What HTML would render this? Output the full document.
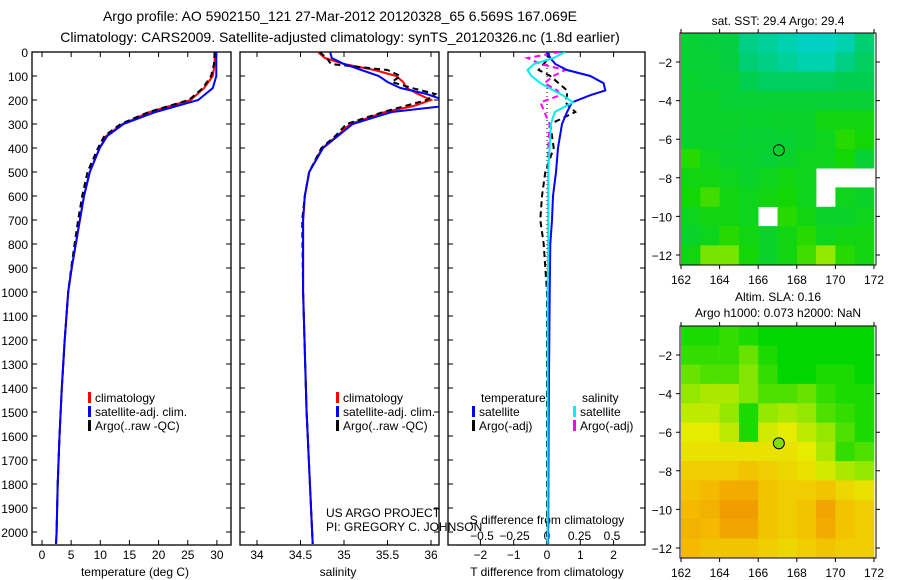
<!DOCTYPE html>
<html><head><meta charset="utf-8">
<style>
body{margin:0;background:#fff;}
svg{display:block;font-family:"Liberation Sans","DejaVu Sans",sans-serif;}
</style></head>
<body>
<svg id="fig" width="900" height="580" viewBox="0 0 900 580">
<text x="340" y="21" font-size="14" text-anchor="middle">Argo profile: AO 5902150_121 27-Mar-2012 20120328_65 6.569S 167.069E</text>
<text x="340" y="42" font-size="14" text-anchor="middle">Climatology: CARS2009. Satellite-adjusted climatology: synTS_20120326.nc (1.8d earlier)</text>
<text x="778" y="25" font-size="12" text-anchor="middle">sat. SST: 29.4 Argo: 29.4</text>
<text x="778" y="301" font-size="12" text-anchor="middle">Altim. SLA: 0.16</text>
<text x="778" y="317" font-size="12" text-anchor="middle">Argo h1000: 0.073 h2000: NaN</text>
<text transform="translate(894,470) rotate(-90)" font-size="12" text-anchor="middle">IMOS 01-Apr-2012 17:02:11</text>
<g id="g"></g>
</svg>
<script>
// ---- profile data ----
const tDepths=[0,50,100,150,200,250,300,350,400,500,600,700,800,900,1000,1200,1400,1600,1800,2000,2050];
const tClim=[29.6,29.6,29.3,27.8,25.5,18.5,13.8,11,9.9,8.2,7.2,6.5,5.8,5.1,4.5,3.9,3.4,3.0,2.7,2.5,2.4];
const tSat=[29.9,29.9,29.9,29.3,26.8,19.5,14,11.2,9.9,8.2,7.2,6.5,5.8,5.1,4.5,3.9,3.4,3.0,2.7,2.5,2.4];
const tArgo=[29.6,29.5,29.0,27.6,25.2,18.3,13.5,10.7,9.6,7.8,6.9,6.2,5.6,5.0,4.5,3.9,3.4,3.0,2.7,2.5,2.4];
const sDepths=[0,25,50,75,100,125,150,175,200,225,250,300,350,400,500,600,700,1000,1500,2050];
const sClim=[34.70,34.78,35.0,35.35,35.6,35.68,35.72,35.85,36.0,35.8,35.47,35.07,34.92,34.75,34.6,34.55,34.53,34.53,34.57,34.64];
const sSat=[34.84,34.86,35.0,35.2,35.4,35.5,35.65,35.95,36.15,36.15,35.55,35.1,34.93,34.76,34.6,34.55,34.53,34.53,34.57,34.64];
const sArgo=[34.72,34.8,34.85,35.5,35.65,35.55,35.78,36.05,35.95,35.7,35.45,35.03,34.9,34.74,34.6,34.55,34.52,34.53,34.57,34.64];
const dDepths=[0,25,50,75,100,130,160,180,210,250,300,400,500,600,700,800,1000,1500,2050];
const dTsat=[0,0.1,0.25,0.6,1.3,1.7,1.75,1.3,0.75,0.6,0.45,0.33,0.27,0.18,0.15,0.1,0.08,0.05,0.03];
const dTargo=[0,0.05,-0.1,-0.25,0.1,0.35,0.6,0.6,0.55,0.85,0.1,0.2,-0.05,-0.15,-0.2,-0.1,0,0,0];
const dSsat=[0.14,0.05,-0.1,-0.15,-0.12,-0.05,0.05,0.12,0.2,0.06,0.03,0.02,0.01,0.01,0.01,0.01,0.005,0.005,0.005];
const dSargo=[0.1,-0.15,-0.05,0.14,0.05,-0.02,0.08,0.1,-0.05,-0.02,0.02,0.01,0.01,0.01,0.01,0.01,0.01,0.01,0.01];
const depthTicks=[0,100,200,300,400,500,600,700,800,900,1000,1100,1200,1300,1400,1500,1600,1700,1800,1900,2000];
const tTicks=[0,5,10,15,20,25,30];
const sTicks=[34,34.5,35,35.5,36];
const dTTicks=[-2,-1,0,1,2];
const dSTicks=[-0.5,-0.25,0,0.25,0.5];
const lonTicks=[162,164,166,168,170,172];
const latTicks=[-2,-4,-6,-8,-10,-12];
// ---- map data (1-degree cells, rows lat -0.5.. -12.5, cols lon 162..172) ----
const sstGrid=[
[.45,.42,.4,.2,.15,.1,.05,.05,.1,.25],
[.45,.45,.4,.25,.2,.15,.1,.1,.2,.3],
[.48,.45,.45,.35,.3,.3,.3,.3,.35,.35],
[.5,.5,.45,.45,.45,.45,.45,.45,.45,.45],
[.5,.5,.5,.48,.48,.5,.5,.6,.6,.6],
[.5,.5,.48,.46,.46,.46,.5,.55,.7,.65],
[.7,.55,.5,.48,.45,.5,.55,.55,.65,.45],
[.6,.6,.55,.5,.55,.6,.55,null,null,null],
[.65,.75,.6,.55,.6,.65,.55,null,.55,.5],
[.55,.6,.6,.55,null,.7,.6,.5,.5,.55],
[.5,.55,.7,.6,.5,.6,.7,.55,.6,.6],
[.6,.85,.85,.65,.5,.6,.75,.9,.7,.6]];
const slaGrid=[
[.05,.05,.1,.05,0,0,0,0,0,0],
[.1,.1,.1,.2,.05,0,0,0,0,0],
[.2,.15,.15,.25,.1,0,0,.05,.05,0],
[.3,.35,.35,.25,.15,.15,.2,.1,.05,.05],
[.4,.4,.3,.05,.3,.35,.3,.15,.1,.05],
[.5,.5,.4,.05,.45,.5,.4,.3,.15,.05],
[.55,.55,.55,.55,.55,.55,.5,.35,.1,.15],
[.65,.65,.65,.7,.65,.6,.55,.45,.35,.3],
[.7,.75,.85,.85,.7,.65,.65,.7,.6,.55],
[.75,.8,.95,.95,.7,.65,.7,.9,.7,.65],
[.8,.75,.9,.9,.7,.65,.7,.85,.7,.65],
[.75,.7,.7,.7,.65,.6,.65,.7,.65,.65]];
const floatLon=167.07, floatLat=-6.57;

const NS="http://www.w3.org/2000/svg";
const G=document.getElementById('g');
function mk(tag,attrs,parent){const e=document.createElementNS(NS,tag);for(const k in attrs)e.setAttribute(k,attrs[k]);(parent||G).appendChild(e);return e;}
const TOP=52,BOT=545;
const yD=d=>TOP+d*0.24;
const xT=v=>42+v*5.83;
const xS=v=>257+(v-34)*87;
const xDT=v=>547+v*33.3;
const xDS=v=>547+v*130;

function panel(name,x0,x1){
  const r=mk('rect',{x:x0,y:TOP,width:x1-x0,height:BOT-TOP,fill:'none',stroke:'#000','stroke-width':1.3});
  
  
  depthTicks.forEach(d=>{
    const t=mk('path',{d:`M${x0},${yD(d)}h5M${x1},${yD(d)}h-5`,stroke:'#000','stroke-width':1});
    
    
  });
  const cp=mk('clipPath',{id:'clip-'+name});
  mk('rect',{x:x0,y:TOP,width:x1-x0,height:BOT-TOP},cp);
}
function line(name,panelName,depths,vals,xf,color,dash,w){
  const p=depths.map((d,i)=>(i?'L':'M')+xf(vals[i]).toFixed(1)+','+yD(d).toFixed(1)).join('');
  const e=mk('path',{d:p,fill:'none',stroke:color,'stroke-width':w||2,'stroke-dasharray':dash||'none','clip-path':`url(#clip-${panelName})`});
  
  
}
function txt(name,x,y,s,anchor,size,fill){
  const e=mk('text',{x:x,y:y,'font-size':size||12,'text-anchor':anchor||'start',fill:fill||'#000'});
  e.textContent=s;
  
  
  return e;
}
function xticks(name,ticks,xf,labY,fmt){
  ticks.forEach(v=>{
    const t=mk('path',{d:`M${xf(v)},${BOT}v-5M${xf(v)},${TOP}v5`,stroke:'#000'});
    
    
    txt(name+'-tick-label',xf(v),labY,fmt?fmt(v):String(v),'middle',12);
  });
}
panel('temp-panel',32,231);
panel('sal-panel',240,439);
panel('diff-panel',448,645);
depthTicks.forEach(d=>txt('depth-tick-label',28,yD(d)+5,String(d),'end',12));
xticks('temp-x',tTicks,xT,559);
xticks('sal-x',sTicks,xS,559);
xticks('diff-t-x',dTTicks,xDT,559,v=>v<0?'\u2212'+(-v):String(v));
dSTicks.forEach(v=>txt('diff-s-tick-label',xDS(v),540,v<0?'\u2212'+(-v):String(v),'middle',12));
txt('temp-x-title',135,576,'temperature (deg C)','middle',12);
txt('sal-x-title',338,576,'salinity','middle',12);
txt('diff-t-x-title',547,576,'T difference from climatology','middle',12);
txt('diff-s-x-title',547,524,'S difference from climatology','middle',12);
const z=mk('path',{d:`M547,${TOP}V${BOT}`,stroke:'#000','stroke-dasharray':'1,3'});


line('temp-climatology','temp-panel',tDepths,tClim,xT,'#f00');
line('temp-argo','temp-panel',tDepths,tArgo,xT,'#000','6,4');
line('temp-satellite','temp-panel',tDepths,tSat,xT,'#00f');
line('sal-climatology','sal-panel',sDepths,sClim,xS,'#f00');
line('sal-argo','sal-panel',sDepths,sArgo,xS,'#000','6,4');
line('sal-satellite','sal-panel',sDepths,sSat,xS,'#00f');
line('diff-t-argo','diff-panel',dDepths,dTargo,xDT,'#000','6,4');
line('diff-s-argo','diff-panel',dDepths,dSargo,xDS,'#f0f','6,4');
line('diff-t-satellite','diff-panel',dDepths,dTsat,xDT,'#00f');
line('diff-s-satellite','diff-panel',dDepths,dSsat,xDS,'#0ee');
function leg(name,x,y,color,label){
  const r=mk('rect',{x:x,y:y-10,width:3,height:11,fill:color});
  
  
  txt(name+'-label',x+7,y,label,'start',12);
}
[['temp',88],['sal',336]].forEach(([n,x])=>{
  leg(n+'-legend-climatology',x,402,'#f00','climatology');
  leg(n+'-legend-satellite',x,416,'#00f','satellite-adj. clim.');
  leg(n+'-legend-argo',x,430,'#000','Argo(..raw -QC)');
});
txt('diff-legend-temp-heading',481,402,'temperature','start',12);
txt('diff-legend-sal-heading',582,402,'salinity','start',12);
leg('diff-legend-t-satellite',472,416,'#00f','satellite');
leg('diff-legend-t-argo',472,430,'#000','Argo(-adj)');
leg('diff-legend-s-satellite',573,416,'#0ee','satellite');
leg('diff-legend-s-argo',573,430,'#f0f','Argo(-adj)');
txt('project-label',326,517,'US ARGO PROJECT','start',12);
txt('pi-label',326,531,'PI: GREGORY C. JOHNSON','start',12);

function lerp(a,b,t){return a.map((v,i)=>Math.round(v+(b[i]-v)*t));}
function cmap(stops,v){
  const n=stops.length-1;const f=Math.max(0,Math.min(1,v))*n;const i=Math.min(n-1,Math.floor(f));
  const c=lerp(stops[i],stops[i+1],f-i);return `rgb(${c[0]},${c[1]},${c[2]})`;
}
const sstStops=[[0,210,215],[0,205,80],[20,215,0],[200,240,0]];
const slaStops=[[0,215,0],[130,230,0],[230,235,0],[245,185,0],[240,150,0]];
function map(name,top,grid,stops){
  const L=680,W=196,H=232;
  const xL=lon=>681+(lon-162)*19.3;
  const yL=lat=>top+29+(-2-lat)*19.3;
  const bg=mk('rect',{x:L,y:top,width:W,height:H,fill:'#fff'});
  
  
  grid.forEach((row,r)=>row.forEach((v,c)=>{
    if(v===null)return;
    const lat=-0.5-r,lon=162+c;
    const cell=mk('rect',{x:xL(lon).toFixed(1),y:yL(lat).toFixed(1),width:19.6,height:19.6,fill:cmap(stops,v)});
    
    
  }));
  const m=mk('path',{d:`M${L+W},${top-2}h30v${H+4}h-30zM${L-30},${top-2}h30v${H+4}h-30z`,fill:'#fff'});
  
  
  const fr=mk('rect',{x:L,y:top,width:W,height:H,fill:'none',stroke:'#000','stroke-width':1});
  
  
  lonTicks.forEach(lon=>{
    const t=mk('path',{d:`M${xL(lon)},${top}v-4M${xL(lon)},${top+H}v4`,stroke:'#000'});
    
    
    txt(name+'-lon-label',xL(lon),top+H+19,String(lon),'middle',12);
  });
  latTicks.forEach(lat=>{
    const t=mk('path',{d:`M${L},${yL(lat)}h-4M${L+W},${yL(lat)}h4`,stroke:'#000'});
    
    
    txt(name+'-lat-label',L-8,yL(lat)+5,String(lat).replace('-','\u2212'),'end',12);
  });
  return {xL,yL};
}
const m1=map('sst-map',33,sstGrid,sstStops);
const c1=mk('circle',{cx:m1.xL(floatLon),cy:m1.yL(floatLat),r:5.5,fill:'none',stroke:'#000'});


const m2=map('sla-map',326,slaGrid,slaStops);
const c2=mk('circle',{cx:m2.xL(floatLon),cy:m2.yL(floatLat),r:5.5,fill:'#7ee000',stroke:'#000'});


</script>
</body></html>
